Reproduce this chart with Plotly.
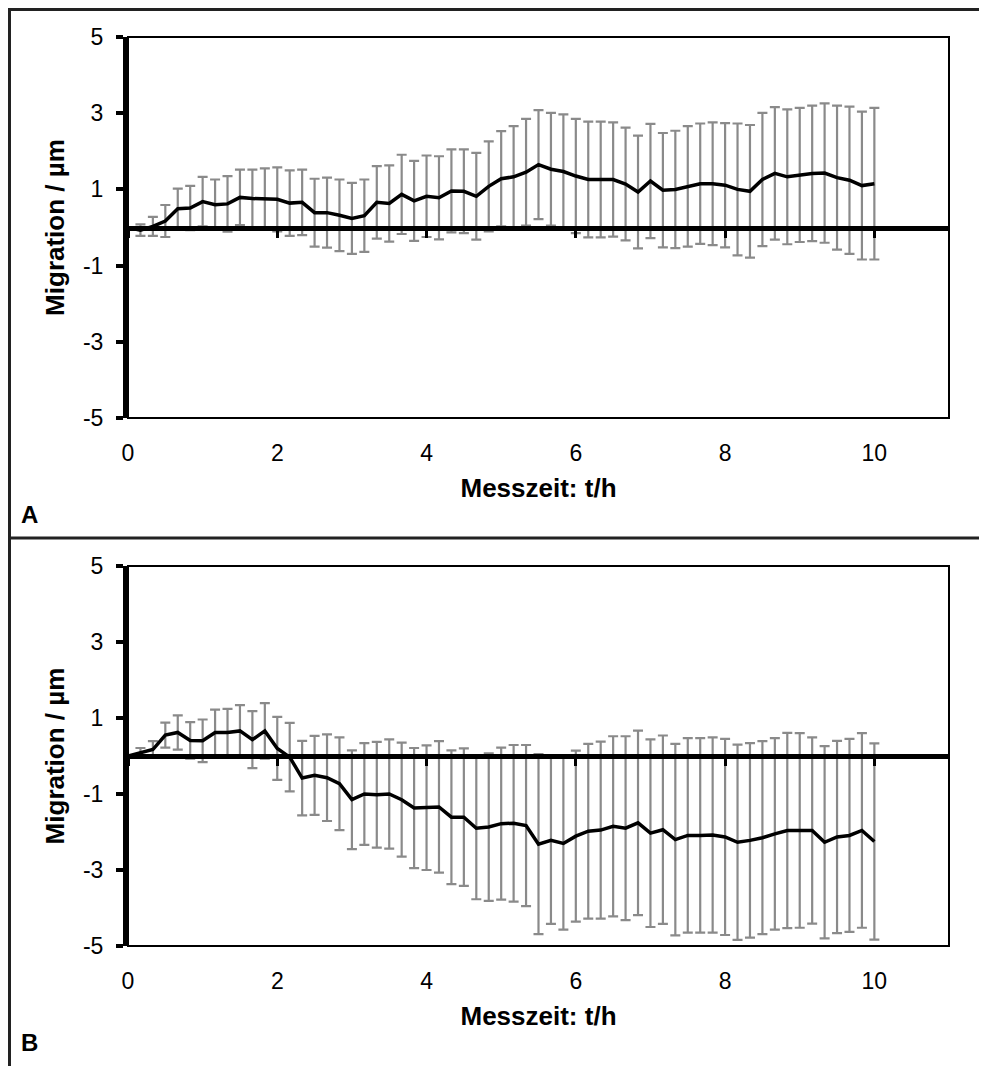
import plotly.graph_objects as go

# Measurement time in minutes (10-min steps), converted to hours for plotting
time_min = [0, 10, 20, 30, 40, 50, 60, 70, 80, 90, 100, 110, 120, 130, 140, 150, 160, 170, 180, 190,
            200, 210, 220, 230, 240, 250, 260, 270, 280, 290, 300, 310, 320, 330, 340, 350, 360, 370,
            380, 390, 400, 410, 420, 430, 440, 450, 460, 470, 480, 490, 500, 510, 520, 530, 540, 550,
            560, 570, 580, 590, 600]
time_h = [m / 60 for m in time_min]

mean_A = [0.00, -0.07, 0.03, 0.17, 0.49, 0.51, 0.68, 0.60, 0.62, 0.79, 0.76, 0.76, 0.74, 0.64, 0.66,
          0.39, 0.39, 0.32, 0.24, 0.31, 0.66, 0.63, 0.87, 0.70, 0.82, 0.78, 0.96, 0.95, 0.82, 1.08,
          1.28, 1.33, 1.45, 1.65, 1.53, 1.47, 1.35, 1.26, 1.26, 1.26, 1.14, 0.93, 1.22, 0.98, 1.00,
          1.08, 1.15, 1.15, 1.11, 1.00, 0.95, 1.26, 1.42, 1.33, 1.38, 1.42, 1.43, 1.31, 1.24, 1.10, 1.15]
err_A = [0.00, 0.15, 0.25, 0.42, 0.53, 0.58, 0.65, 0.66, 0.73, 0.73, 0.76, 0.79, 0.84, 0.86, 0.86,
         0.89, 0.92, 0.94, 0.93, 0.95, 0.95, 1.00, 1.04, 1.05, 1.07, 1.09, 1.09, 1.10, 1.14, 1.18,
         1.25, 1.33, 1.40, 1.43, 1.48, 1.50, 1.50, 1.52, 1.52, 1.50, 1.48, 1.48, 1.50, 1.50, 1.54,
         1.58, 1.58, 1.61, 1.63, 1.73, 1.74, 1.75, 1.74, 1.77, 1.76, 1.78, 1.83, 1.89, 1.93, 1.94, 1.99]

mean_B = [0.00, 0.09, 0.17, 0.55, 0.62, 0.41, 0.40, 0.62, 0.62, 0.66, 0.43, 0.66, 0.20, -0.03, -0.58,
          -0.51, -0.57, -0.73, -1.15, -1.00, -1.02, -1.00, -1.15, -1.37, -1.36, -1.34, -1.61, -1.61,
          -1.90, -1.87, -1.78, -1.77, -1.83, -2.32, -2.22, -2.30, -2.11, -1.98, -1.95, -1.85, -1.90,
          -1.76, -2.03, -1.94, -2.20, -2.09, -2.09, -2.08, -2.13, -2.27, -2.22, -2.15, -2.05, -1.96,
          -1.96, -1.96, -2.27, -2.13, -2.09, -1.96, -2.25]
err_B = [0.00, 0.12, 0.22, 0.33, 0.45, 0.48, 0.56, 0.60, 0.62, 0.68, 0.75, 0.73, 0.83, 0.90, 0.98,
         1.04, 1.14, 1.22, 1.30, 1.34, 1.39, 1.44, 1.50, 1.58, 1.64, 1.73, 1.76, 1.81, 1.87, 1.94,
         2.00, 2.06, 2.12, 2.37, 2.20, 2.27, 2.25, 2.30, 2.33, 2.37, 2.42, 2.43, 2.47, 2.48, 2.52,
         2.56, 2.56, 2.57, 2.58, 2.57, 2.56, 2.54, 2.52, 2.57, 2.56, 2.45, 2.53, 2.53, 2.54, 2.56, 2.58]

y_ticks = [-5, -3, -1, 1, 3, 5]
y_tick_text = ["-5", "-3", "-1", "1", "3", "5"]
x_ticks = [0, 2, 4, 6, 8, 10]
x_title = "Messzeit: t/h"
y_title = "Migration / µm"
panel_labels = ["A", "B"]

# the page body adds an 8px offset; the figure fills the rest of the window
OFF = 8
W, H = 987 - OFF, 1066 - OFF
FONT = "Liberation Sans, Arial, sans-serif"
ERR_COLOR = "#8a8a8a"
TICK_SIZE = 23
TITLE_SIZE = 26

def px_x(p):
    return (p - OFF) / W

def px_y(p):
    return 1 - (p - OFF) / H

xdom = [px_x(128), px_x(949)]
ydom_A = [px_y(418), px_y(37)]
ydom_B = [px_y(946), px_y(566)]

fig = go.Figure()

panels = [
    ("x", "y", "x3", mean_A, err_A),
    ("x2", "y2", "x4", mean_B, err_B),
]
for xa, ya, xz, mean, err in panels:
    fig.add_trace(go.Scatter(
        x=time_h, y=mean, xaxis=xa, yaxis=ya, mode="markers",
        marker=dict(size=1, opacity=0),
        error_y=dict(type="data", array=err, visible=True, color=ERR_COLOR,
                     thickness=2.2, width=5),
        hoverinfo="skip", showlegend=False))
    fig.add_trace(go.Scatter(
        x=time_h, y=mean, xaxis=xa, yaxis=ya, mode="lines",
        line=dict(color="black", width=3.5), showlegend=False))
    # helper trace so the zero-line axis is rendered
    fig.add_trace(go.Scatter(
        x=[time_h[0]], y=[mean[0]], xaxis=xz, yaxis=ya, mode="markers",
        marker=dict(opacity=0), hoverinfo="skip", showlegend=False))

def yaxis_cfg(dom):
    return dict(
        domain=dom, range=[-5, 5], tickvals=y_ticks, ticktext=y_tick_text,
        showgrid=False, zeroline=False, automargin=False,
        showline=True, linewidth=5, linecolor="black",
        ticks="outside", ticklen=7, tickwidth=4, tickcolor="black",
        ticklabelstandoff=8,
        tickfont=dict(family=FONT, size=TICK_SIZE, color="black"),
        title=dict(text="<b>" + y_title + "</b>",
                   font=dict(family=FONT, size=TITLE_SIZE, color="black"), standoff=12),
    )

def xaxis_cfg(anchor):
    return dict(
        domain=xdom, anchor=anchor, range=[0, 11], tickvals=x_ticks, showgrid=False,
        zeroline=False, showline=False, ticks="", automargin=False,
        ticklabelstandoff=19,
        tickfont=dict(family=FONT, size=TICK_SIZE, color="black"),
        title=dict(text="<b>" + x_title + "</b>",
                   font=dict(family=FONT, size=TITLE_SIZE, color="black"), standoff=13),
    )

def zero_axis_cfg(over, dom):
    return dict(
        overlaying=over, anchor="free", position=(dom[0] + dom[1]) / 2, automargin=False,
        range=[0, 11], tickvals=x_ticks, showticklabels=False, showgrid=False, zeroline=False,
        showline=True, linewidth=5, linecolor="black",
        ticks="outside", ticklen=7, tickwidth=3, tickcolor="black", layer="above traces",
    )

fig.update_layout(
    template="none",
    width=W, height=H,
    margin=dict(l=0, r=0, t=0, b=0, pad=0),
    paper_bgcolor="white", plot_bgcolor="white",
    showlegend=False,
    font=dict(family=FONT, color="black"),
    xaxis=xaxis_cfg("y"), yaxis=yaxis_cfg(ydom_A),
    xaxis2=xaxis_cfg("y2"), yaxis2=yaxis_cfg(ydom_B),
    xaxis3=zero_axis_cfg("x", ydom_A),
    xaxis4=zero_axis_cfg("x2", ydom_B),
)

# plot-area frames
for xr, yr in [("x", "y"), ("x2", "y2")]:
    fig.add_shape(type="rect", xref=xr + " domain", yref=yr + " domain",
                  x0=0, x1=1, y0=0, y1=1, line=dict(color="black", width=2), layer="above")

# outer figure frame lines
frame_col = "#222222"
fig.add_shape(type="line", xref="paper", yref="paper", x0=px_x(9.5), x1=1, y0=px_y(9.5), y1=px_y(9.5),
              line=dict(color=frame_col, width=3))
fig.add_shape(type="line", xref="paper", yref="paper", x0=px_x(9.5), x1=px_x(9.5), y0=0, y1=px_y(8),
              line=dict(color=frame_col, width=3))
fig.add_shape(type="line", xref="paper", yref="paper", x0=px_x(9.5), x1=1, y0=px_y(538), y1=px_y(538),
              line=dict(color=frame_col, width=3))

for lab, ypos in zip(panel_labels, [514, 1042]):
    fig.add_annotation(text="<b>" + lab + "</b>", xref="paper", yref="paper",
                       x=px_x(19), y=px_y(ypos), xanchor="left", yanchor="middle",
                       showarrow=False, font=dict(family=FONT, size=24, color="black"))

fig.write_html("out.html")
